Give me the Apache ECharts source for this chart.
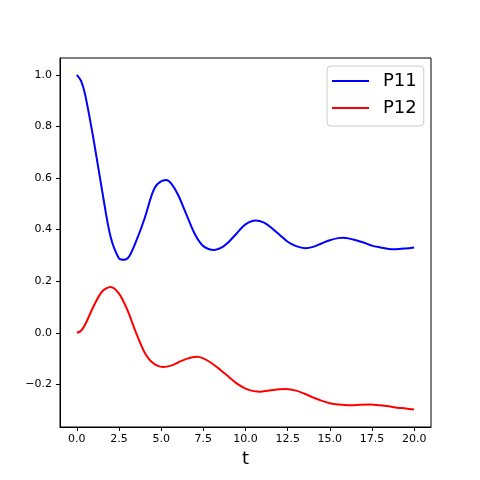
<!DOCTYPE html>
<html>
<head>
<meta charset="utf-8">
<script src="https://cdn.jsdelivr.net/npm/echarts@6.0.0/dist/echarts.min.js"></script>
<style>
  html, body { margin: 0; padding: 0; background: #fff; }
</style>
</head>
<body>
<div id="main" style="width: 480px; height: 480px;"></div>
<script>
// P11: time samples and values (extrema included)
var p11T = [0, 0.25, 0.5, 1, 1.5, 2, 2.5, 2.8, 3.1, 3.5, 4, 4.5, 4.8, 5.3, 5.6, 6, 6.5, 7, 7.5, 8.15,
  8.6, 9, 9.5, 10, 10.6, 11.1, 11.5, 12, 12.5, 13, 13.55, 14, 14.5, 15, 15.5, 15.8, 16.1, 16.5,
  17, 17.5, 18, 18.5, 18.9, 19.5, 20];
var p11 = [1.0, 0.976, 0.92, 0.746, 0.55, 0.372, 0.288, 0.283, 0.296, 0.352, 0.44, 0.545, 0.578,
  0.592, 0.578, 0.535, 0.458, 0.382, 0.336, 0.321, 0.331, 0.352, 0.387, 0.42, 0.435, 0.427, 0.409,
  0.381, 0.353, 0.336, 0.328, 0.333, 0.346, 0.359, 0.367, 0.368, 0.366, 0.36, 0.35, 0.338, 0.331,
  0.325, 0.324, 0.327, 0.331];

// P12
var p12T = [0, 0.25, 0.5, 1, 1.5, 2, 2.5, 3, 3.5, 4, 4.5, 5.1, 5.6, 6, 6.5, 7.1, 7.5, 8, 8.5, 9,
  9.5, 10, 10.5, 10.9, 11.5, 12, 12.4, 13, 13.5, 14, 14.5, 15, 15.5, 16.2, 16.8, 17.4, 18, 18.5,
  19, 19.5, 20];
var p12 = [0, 0.008, 0.033, 0.104, 0.16, 0.178, 0.152, 0.088, 0.002, -0.074, -0.116, -0.132,
  -0.127, -0.115, -0.101, -0.093, -0.099, -0.118, -0.143, -0.17, -0.197, -0.216, -0.226, -0.228,
  -0.223, -0.219, -0.218, -0.224, -0.236, -0.25, -0.263, -0.273, -0.278, -0.281, -0.279, -0.278,
  -0.281, -0.285, -0.29, -0.293, -0.297];

// tick labels
var xTicks = [0, 2.5, 5, 7.5, 10, 12.5, 15, 17.5, 20];
var yTicks = [-0.2, 0, 0.2, 0.4, 0.6, 0.8, 1.0];

function pairs(ts, ys) {
  return ts.map(function (t, i) { return [t, ys[i]]; });
}

var font = "DejaVu Sans";
var myChart = echarts.init(document.getElementById("main"));
var option = {
  animation: false,
  backgroundColor: "#fff",
  textStyle: { fontFamily: font },
  grid: {
    left: 60, top: 58, width: 371, height: 369,
    show: true, borderColor: "#000", borderWidth: 1
  },
  legend: {
    left: 327, top: 66,
    orient: "vertical",
    icon: "rect",
    itemWidth: 37, itemHeight: 2,
    itemGap: 9,
    padding: [6, 7, 9, 5],
    backgroundColor: "#fff",
    borderColor: "#cccccc",
    borderWidth: 1,
    borderRadius: 4,
    textStyle: { fontSize: 18, fontFamily: font, color: "#000", padding: [0, 0, 0, 9] },
    data: ["P11", "P12"]
  },
  xAxis: {
    type: "value",
    min: -1, max: 21,
    name: "t",
    nameLocation: "middle",
    nameGap: 22,
    nameTextStyle: { fontSize: 18, fontFamily: font, color: "#000" },
    splitLine: { show: false },
    axisLine: { onZero: false, lineStyle: { color: "#000", width: 1 } },
    axisTick: { length: 4, lineStyle: { color: "#000" }, customValues: xTicks },
    axisLabel: {
      margin: 7, fontSize: 11, color: "#000", fontFamily: font,
      customValues: xTicks,
      formatter: function (v) { return v.toFixed(1); }
    }
  },
  yAxis: {
    type: "value",
    min: -0.365, max: 1.065,
    splitLine: { show: false },
    axisLine: { show: true, onZero: false, lineStyle: { color: "#000", width: 1 } },
    axisTick: { show: true, length: 4, lineStyle: { color: "#000" }, customValues: yTicks },
    axisLabel: {
      margin: 8, fontSize: 11, color: "#000", fontFamily: font,
      customValues: yTicks,
      formatter: function (v) { return (v < 0 ? "\u2212" : "") + Math.abs(v).toFixed(1); }
    }
  },
  series: [
    {
      name: "P11", type: "line", data: pairs(p11T, p11),
      symbol: "none", smooth: 0.3,
      lineStyle: { color: "#0000ff", width: 2 },
      itemStyle: { color: "#0000ff" }
    },
    {
      name: "P12", type: "line", data: pairs(p12T, p12),
      symbol: "none", smooth: 0.3,
      lineStyle: { color: "#ff0000", width: 2 },
      itemStyle: { color: "#ff0000" }
    }
  ]
};
myChart.setOption(option);
</script>
</body>
</html>
